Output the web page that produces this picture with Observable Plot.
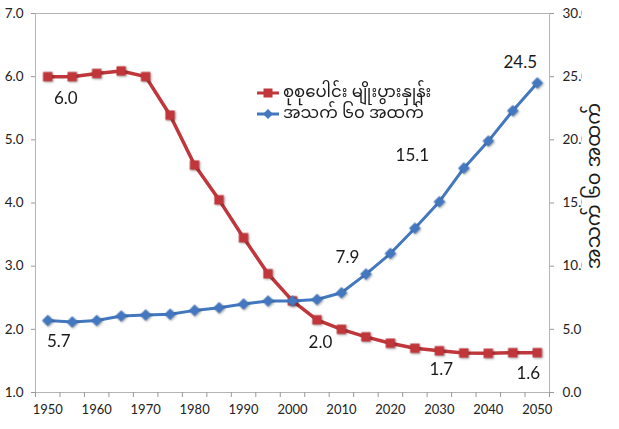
<!DOCTYPE html>
<html><head><meta charset="utf-8">
<script src="https://cdn.jsdelivr.net/npm/d3@7"></script>
<script src="https://cdn.jsdelivr.net/npm/@observablehq/plot@0.6"></script>
<style>
body{margin:0;background:#fff;}
#wrap{position:relative;width:619px;height:429px;overflow:hidden;}
.legend{position:absolute;left:256px;top:82px;font-family:"Noto Sans Myanmar","Padauk","Myanmar Text",sans-serif;font-size:16.5px;color:#1a1a1a;}
.row{display:flex;align-items:center;height:21.5px;white-space:nowrap;}
.row span{line-height:20px;display:inline-block;}
.row svg{margin-right:3px;flex:none;}
g[aria-label="x-axis tick label"]{font-family:Lato,"Open Sans",sans-serif;font-size:13px;fill:#222;}
g[aria-label="y-axis tick label"]{font-family:Lato,"Open Sans",sans-serif;font-size:13.5px;fill:#222;}
g[aria-label="dot"]{filter:drop-shadow(1px 1px 1px rgba(0,0,0,0.35));}
</style></head><body><div id="wrap"></div>
<script>
const years = [1950,1955,1960,1965,1970,1975,1980,1985,1990,1995,2000,2005,2010,2015,2020,2025,2030,2035,2040,2045,2050];
const fertility = [6.0,6.0,6.05,6.09,6.0,5.39,4.6,4.05,3.45,2.88,2.45,2.15,2.0,1.88,1.78,1.70,1.66,1.625,1.62,1.63,1.63];
const aged60 = [5.7,5.58,5.7,6.05,6.13,6.2,6.5,6.7,7.0,7.24,7.24,7.36,7.9,9.37,11.0,13.0,15.1,17.76,19.9,22.3,24.5];
const seriesNames = ["စုစုပေါင်း မျိုးပွားနှုန်း", "အသက် ၆၀ အထက်"];
const rightAxisTitle = "အသက် ၆၀ အထက်";
const leftTicks = [1,2,3,4,5,6,7];
const rightTicks = [0,5,10,15,20,25,30];
const xTickLabels = [1950,1960,1970,1980,1990,2000,2010,2020,2030,2040,2050];
const labelledYears = [1950,2010,2030,2050];

const red = "#c0363a", blue = "#4377bf";
const fert = years.map((year,i)=>({year, v: fertility[i]}));
const aged = years.map((year,i)=>({year, v: aged60[i]}));
// right axis (0–30) mapped onto the left scale (1–7)
const toLeft = v => v/5 + 1;
const step = years[1]-years[0];
const bounds = years.map(y=>y-step/2).concat([years[years.length-1]+step/2]);

const lbl = (rows, yr, yfn, dx, dy) => Plot.text(rows.filter(d=>d.year===yr), {
  x:"year", y:yfn, text:d=>d.v.toFixed(1), dx, dy,
  fontSize:17, fontFamily:"Lato, 'Open Sans', sans-serif", fill:"#1a1a1a"
});

const chart = Plot.plot({
  width:619, height:429,
  marginLeft:35, marginRight:70, marginTop:13, marginBottom:37,
  x:{domain:[bounds[0], bounds[bounds.length-1]], label:null},
  y:{domain:[1,7], label:null},
  marks:[
    Plot.frame({stroke:"#b5b5b5"}),
    Plot.axisX({ticks:bounds, tickSize:5, tickFormat:()=>"", stroke:"#999", label:null}),
    Plot.axisX({ticks:xTickLabels, tickSize:0, tickPadding:12, tickFormat:d=>String(d), label:null}),
    Plot.axisY({ticks:leftTicks, tickSize:4, tickPadding:8, tickFormat:d=>d.toFixed(1), label:null, stroke:"#999"}),
    Plot.axisY({anchor:"right", ticks:rightTicks.map(toLeft), tickSize:4, tickPadding:9,
      tickFormat:d=>((d-1)*5).toFixed(1), label:null, stroke:"#999"}),
    Plot.text([rightAxisTitle], {frameAnchor:"right", text:d=>d, rotate:-90, dx:44, dy:-17,
      textAnchor:"middle", lineAnchor:"middle",
      fontSize:19.5, fontFamily:"'Noto Sans Myanmar', Padauk, sans-serif", fill:"#1a1a1a"}),
    Plot.line(fert, {x:"year", y:"v", stroke:red, strokeWidth:3.5}),
    Plot.dot(fert, {x:"year", y:"v", symbol:"square", r:5.3, fill:red}),
    Plot.line(aged, {x:"year", y:d=>toLeft(d.v), stroke:blue, strokeWidth:3}),
    Plot.dot(aged, {x:"year", y:d=>toLeft(d.v), symbol:"square", rotate:45, r:4.6, fill:blue}),
    lbl(fert, labelledYears[0], "v", 18, 22),
    lbl(fert, labelledYears[1], "v", -21, 13),
    lbl(fert, labelledYears[2], "v", 2, 19),
    lbl(fert, labelledYears[3], "v", -9, 21),
    lbl(aged, labelledYears[0], d=>toLeft(d.v), 11, 21),
    lbl(aged, labelledYears[1], d=>toLeft(d.v), 6, -35),
    lbl(aged, labelledYears[2], d=>toLeft(d.v), -27, -46),
    lbl(aged, labelledYears[3], d=>toLeft(d.v), -17, -20)
  ]
});
const wrap = document.getElementById("wrap");
wrap.appendChild(chart);

// clip the right-axis tick labels as in the reference
const svg = d3.select(chart);
svg.append("defs").append("clipPath").attr("id","rclip").attr("clipPathUnits","userSpaceOnUse")
  .append("rect").attr("x",0).attr("y",0).attr("width",582).attr("height",429);
svg.selectAll('g[aria-label="y-axis tick label"]').each(function(){
  if (this.getAttribute("text-anchor")==="start") {
    const w = document.createElementNS("http://www.w3.org/2000/svg","g");
    w.setAttribute("clip-path","url(#rclip)");
    this.parentNode.insertBefore(w,this);
    w.appendChild(this);
  }
});

// legend
const leg = document.createElement("div");
leg.className = "legend";
const swatch = (color, shape) => `<svg width="24" height="14"><line x1="1" x2="23" y1="7" y2="7" stroke="${color}" stroke-width="3"/>` +
  (shape==="square" ? `<rect x="7.5" y="2.5" width="9" height="9" fill="${color}"/>` : `<path d="M12,2 L17,7 L12,12 L7,7Z" fill="${color}"/>`) + `</svg>`;
leg.innerHTML = `<div class="row">${swatch(red,"square")}<span>${seriesNames[0]}</span></div>` +
                `<div class="row">${swatch(blue,"diamond")}<span>${seriesNames[1]}</span></div>`;
wrap.appendChild(leg);
</script>
</body></html>
